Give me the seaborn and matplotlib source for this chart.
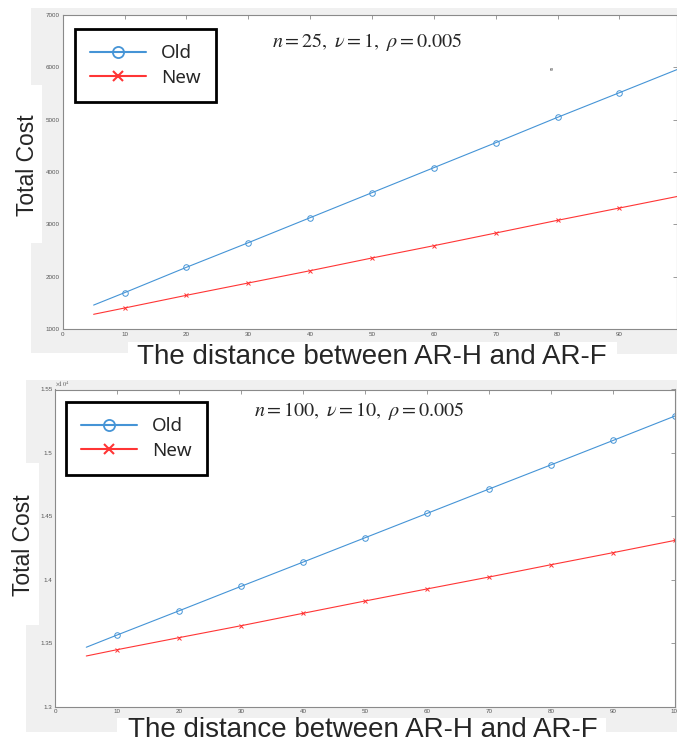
import numpy as np
import seaborn as sns
import matplotlib.pyplot as plt
from matplotlib.patches import Polygon
from matplotlib.lines import Line2D
from matplotlib.ticker import FuncFormatter, MultipleLocator

# data
dist = [5, 10, 20, 30, 40, 50, 60, 70, 80, 90, 100]
top_old = [1457, 1694, 2179, 2649, 3127, 3605, 4083, 4560, 5045, 5516, 5990]
top_new = [1281, 1401, 1644, 1879, 2114, 2357, 2592, 2834, 3077, 3312, 3548]
bot_old = [13468, 13565, 13756, 13949, 14140, 14332, 14524, 14716, 14907, 15099, 15292]
bot_new = [13399, 13449, 13544, 13638, 13736, 13833, 13928, 14022, 14119, 14214, 14311]
labels = ["Old", "New"]
xlabel = "The distance between AR-H and AR-F"
ylabel = "Total Cost"
top_note = r"$n=25,\ \nu=1,\ \rho=0.005$"
bot_note = r"$n=100,\ \nu=10,\ \rho=0.005$"

sns.set_style("white")
plt.rcParams["font.family"] = ["Liberation Sans", "DejaVu Sans"]
plt.rcParams["mathtext.fontset"] = "stix"

W, H = 677, 745
fig = plt.figure(figsize=(W / 100, H / 100), dpi=100)

def fbox(x0, y0, x1, y1):
    return [x0 / W, 1 - y1 / H, (x1 - x0) / W, (y1 - y0) / H]

def gray_patch(pts):
    pts = [(x / W, 1 - y / H) for x, y in pts]
    fig.add_artist(Polygon(pts, closed=True, transform=fig.transFigure,
                           facecolor="#f0f0f0", edgecolor="none", zorder=-1))

# grey MATLAB window background behind each panel
gray_patch([(31, 8), (677, 8), (677, 354), (617, 354), (617, 342), (128, 342),
            (128, 353), (31, 353), (31, 243), (42, 243), (42, 85), (31, 85)])
gray_patch([(26, 380), (677, 380), (677, 732), (606, 732), (606, 718), (117, 718),
            (117, 732), (26, 732), (26, 625), (39, 625), (39, 463), (26, 463)])

blue = "#4594d6"
red = "#ff3535"
edge = "#8a8a8a"

ax1 = fig.add_axes(fbox(62.7, 15, 677, 329))
ax2 = fig.add_axes(fbox(55.3, 389.5, 675.3, 706.6))

def draw(ax, old, new, anchor):
    sns.lineplot(x=dist, y=old, ax=ax, color=blue, lw=0.8, marker="o", ms=4,
                 mfc="none", mec=blue, mew=0.7, markevery=list(range(1, len(dist))),
                 legend=False)
    sns.lineplot(x=dist, y=new, ax=ax, color=red, lw=0.8, marker="x", ms=3,
                 mec=red, mew=0.7, markevery=list(range(1, len(dist))),
                 legend=False)
    for s in ax.spines.values():
        s.set_color(edge)
        s.set_linewidth(0.8)
    ax.tick_params(direction="in", length=3, width=0.6, color=edge, top=True,
                   right=True, labelsize=4.5, labelcolor="#555555", pad=2)
    ax.xaxis.set_major_locator(MultipleLocator(10))
    handles = [Line2D([], [], color=blue, lw=1.5, marker="o", ms=8, mfc="none", mew=1.3),
               Line2D([], [], color=red, lw=1.5, marker="x", ms=7, mew=1.5)]
    leg = ax.legend(handles, labels, loc="upper left",
                    prop={"family": "Noto Sans", "size": 13.5},
                    frameon=True, fancybox=False, framealpha=1, borderpad=0.8,
                    handlelength=3.0, handletextpad=0.8, labelspacing=0.35,
                    borderaxespad=0, bbox_to_anchor=anchor)
    leg.get_frame().set_edgecolor("black")
    leg.get_frame().set_linewidth(2)

draw(ax1, top_old, top_new, (0.02, 0.955))
ax1.set_xlim(0, 99.3)
ax1.set_ylim(1000, 7000)
ax1.yaxis.set_major_locator(MultipleLocator(1000))
fig.text(272 / W, 1 - 42 / H, top_note, fontsize=14.5, va="center", ha="left")
ax1.text(79, 5950, "e", fontsize=4, ha="center", va="center", color="#333333")

draw(ax2, bot_old, bot_new, (0.017, 0.96))
ax2.set_xlim(0, 100)
ax2.set_ylim(13000, 15500)
ax2.yaxis.set_major_locator(MultipleLocator(500))
ax2.yaxis.set_major_formatter(FuncFormatter(lambda v, p: f"{v / 1e4:g}"))
ax2.text(0.0, 1.004, r"$\times10^4$", transform=ax2.transAxes, fontsize=4.5,
         color="#555555", va="bottom", ha="left")
fig.text(254 / W, 1 - 411 / H, bot_note, fontsize=14.5, va="center", ha="left")

# axis titles placed like the screenshot
fig.text(27 / W, 1 - 165 / H, ylabel, rotation=90, fontsize=16.5, va="center", ha="center")
fig.text(23 / W, 1 - 545 / H, ylabel, rotation=90, fontsize=16.5, va="center", ha="center")
fig.text(372 / W, 1 - 357 / H, xlabel, fontsize=20, va="center", ha="center")
fig.text(363 / W, 1 - 730 / H, xlabel, fontsize=20, va="center", ha="center")

fig.savefig("out.png", dpi=100, facecolor="white")
